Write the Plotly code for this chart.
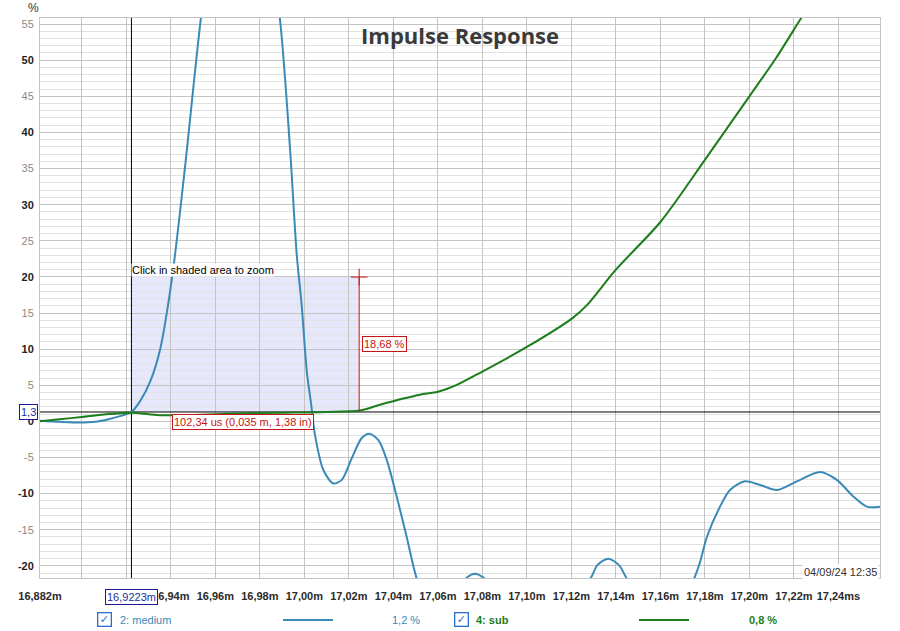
import plotly.graph_objects as go

# ---------------- data ----------------
medium_x = [16.8812, 16.8900, 16.8990, 16.9060, 16.9120, 16.9180, 16.9223, 16.9262, 16.9307,
            16.9352, 16.9406, 16.9463, 16.9535, 16.9620, 16.9711, 16.9800, 16.9890,
            16.9936, 16.9966, 16.9988, 17.0011, 17.0030, 17.0048, 17.0085, 17.0130, 17.0168,
            17.0213, 17.0258, 17.0292, 17.0333, 17.0370, 17.0415, 17.0460, 17.0498, 17.0560,
            17.0630, 17.0709, 17.0731, 17.0767, 17.0803, 17.0840, 17.0970, 17.1150, 17.1285,
            17.1317, 17.1366, 17.1414, 17.1450, 17.1576, 17.1710, 17.1748, 17.1778, 17.1809,
            17.1868, 17.1913, 17.1980, 17.2048, 17.2123, 17.2213, 17.2318, 17.2393, 17.2467,
            17.2528, 17.2587]
medium_y = [0.1, -0.05, -0.15, -0.05, 0.3, 0.8, 1.3, 2.8, 5.5,
            10.0, 20.0, 35.0, 55.8, 75.0, 82.0, 75.0, 55.8,
            37.6, 23.0, 16.1, 6.9, 2.5, -1.9, -6.7, -8.6, -8.1,
            -5.1, -2.3, -1.7, -2.6, -5.3, -10.4, -16.0, -21.0, -26.5,
            -26.0, -22.5, -21.6, -21.1, -21.6, -22.8, -28.0, -26.0, -21.8,
            -19.9, -19.0, -19.9, -21.8, -27.0, -24.0, -22.0, -19.5, -16.0,
            -11.8, -9.5, -8.3, -8.8, -9.5, -8.3, -7.0, -8.1, -10.4,
            -11.8, -11.8]

sub_x = [16.8812, 16.8900, 16.9000, 16.9100, 16.9223, 16.9350, 16.9500, 16.9700, 16.9900,
         17.0100, 17.0250, 17.0340, 17.0450, 17.0520, 17.0600, 17.0685, 17.0800, 17.1000, 17.1205,
         17.1270, 17.1400, 17.1600, 17.1800, 17.2000, 17.2120, 17.2230, 17.2400, 17.2587]
sub_y = [0.0, 0.3, 0.6, 0.95, 1.2, 0.85, 0.9, 1.1, 1.2,
         1.3, 1.5, 2.3, 3.2, 3.7, 4.1, 5.05, 6.9, 10.3, 14.3,
         16.1, 21.0, 27.6, 36.2, 45.0, 50.3, 55.7, 64.0, 73.0]

x_tickvals = [16.8812, 16.90, 16.92, 16.94, 16.96, 16.98, 17.00, 17.02, 17.04, 17.06, 17.08,
              17.10, 17.12, 17.14, 17.16, 17.18, 17.20, 17.22, 17.24]
x_ticktext = ["16,882m", "", "", "16,94m", "16,96m", "16,98m", "17,00m", "17,02m", "17,04m",
              "17,06m", "17,08m", "17,10m", "17,12m", "17,14m", "17,16m", "17,18m", "17,20m",
              "17,22m", "17,24ms"]
y_tickvals = [-20, -15, -10, -5, 0, 5, 10, 15, 20, 25, 30, 35, 40, 45, 50, 55]

cursor_x = 16.9223
cursor_y = 1.3
delta_x = 0.10234
delta_y = 18.68

X_RANGE = [16.8812, 17.2587]
Y_RANGE = [-21.68, 55.84]

BLUE = "#3a8ab8"
GREEN = "#1c7d1c"
RED = "#c81414"

def fmt_y(v):
    if v % 10 == 0:
        return "<b>%d</b>" % v
    return "<span style='color:#8a8a8a'>%d</span>" % v

y_ticktext = [fmt_y(v) for v in y_tickvals]

# plot area in pixels: x 40..880, y 18..578
def px(p):
    return (p - 40) / 840.0

def py(p):
    return (578 - p) / 560.0

fig = go.Figure()

# cursor cross-hair
fig.add_trace(go.Scatter(x=[cursor_x, cursor_x], y=Y_RANGE, mode="lines",
                         line=dict(color="black", width=1), hoverinfo="skip", showlegend=False))
fig.add_trace(go.Scatter(x=X_RANGE, y=[cursor_y, cursor_y], mode="lines",
                         line=dict(color="black", width=1), hoverinfo="skip", showlegend=False))

fig.add_trace(go.Scatter(x=medium_x, y=medium_y, mode="lines",
                         line=dict(color=BLUE, width=2, shape="spline", smoothing=0.8),
                         hoverinfo="skip", showlegend=False))
fig.add_trace(go.Scatter(x=sub_x, y=sub_y, mode="lines",
                         line=dict(color=GREEN, width=2, shape="spline", smoothing=0.8),
                         hoverinfo="skip", showlegend=False))
fig.add_trace(go.Scatter(x=[cursor_x + delta_x, cursor_x + delta_x],
                         y=[cursor_y, cursor_y + delta_y], mode="lines",
                         line=dict(color=RED, width=1), hoverinfo="skip", showlegend=False))
fig.add_trace(go.Scatter(x=[cursor_x + delta_x], y=[cursor_y + delta_y], mode="markers",
                         marker=dict(symbol="cross-thin", size=12,
                                     line=dict(color=RED, width=1)),
                         hoverinfo="skip", showlegend=False))

shapes = [
    dict(type="rect", xref="x", yref="y", x0=cursor_x, x1=cursor_x + delta_x,
         y0=cursor_y, y1=cursor_y + delta_y, fillcolor="rgba(215,215,250,0.6)",
         line=dict(width=0), layer="below"),
    # legend line samples
    dict(type="line", xref="paper", yref="paper", x0=px(283), x1=px(333), y0=py(620), y1=py(620),
         line=dict(color=BLUE, width=2)),
    dict(type="line", xref="paper", yref="paper", x0=px(639), x1=px(689), y0=py(620), y1=py(620),
         line=dict(color=GREEN, width=2)),
]

annotations = [
    dict(text="<b>Impulse Response</b>", xref="paper", yref="paper", x=px(460), y=py(35),
         showarrow=False, font=dict(family="Open Sans", size=22, color="#3a3a3a"),
         xanchor="center", yanchor="middle"),
    dict(text="%", xref="paper", yref="paper", x=px(33), y=py(8), showarrow=False,
         font=dict(family="Liberation Sans", size=12, color="#333"), xanchor="center", yanchor="middle"),
    dict(text="1,3", xref="paper", yref="y", x=px(38), y=cursor_y, showarrow=False,
         xanchor="right", yanchor="middle", font=dict(family="Liberation Sans", size=11, color="#1a2fa0"),
         bgcolor="white", bordercolor="#1a1a9a", borderwidth=1, borderpad=1),
    dict(text="16,9223m", xref="x", yref="paper", x=cursor_x, y=py(597), showarrow=False,
         xanchor="center", yanchor="middle", font=dict(family="Liberation Sans", size=11, color="#1a2fa0"),
         bgcolor="white", bordercolor="#1a1a9a", borderwidth=1, borderpad=1),
    dict(text="Click in shaded area to zoom", xref="x", yref="paper", x=cursor_x, y=py(270),
         showarrow=False, xanchor="left", yanchor="middle",
         font=dict(family="Liberation Sans", size=11, color="black"), bgcolor="white", borderpad=0),
    dict(text="18,68 %", xref="paper", yref="paper", x=px(362), y=py(344), showarrow=False,
         xanchor="left", yanchor="middle", font=dict(family="Liberation Sans", size=11, color=RED),
         bgcolor="white", bordercolor=RED, borderwidth=1, borderpad=1),
    dict(text="102,34 us (0,035 m, 1,38 in)", xref="paper", yref="paper", x=px(172), y=py(422),
         showarrow=False, xanchor="left", yanchor="middle",
         font=dict(family="Liberation Sans", size=11, color=RED),
         bgcolor="white", bordercolor=RED, borderwidth=1, borderpad=1),
    dict(text="04/09/24 12:35", xref="paper", yref="paper", x=px(879), y=py(572), showarrow=False,
         xanchor="right", yanchor="middle", font=dict(family="Liberation Sans", size=11, color="#333"),
         bgcolor="white", borderpad=1),
    # legend
    dict(text="<b>✓</b>", xref="paper", yref="paper", x=px(104.5), y=py(619), showarrow=False,
         xanchor="center", yanchor="middle", font=dict(family="DejaVu Sans", size=11, color="#2a6fd0"),
         bordercolor="#2a6fd0", borderwidth=1.3, borderpad=0, width=12, height=12, bgcolor="white"),
    dict(text="2: medium", xref="paper", yref="paper", x=px(118), y=py(620), showarrow=False,
         xanchor="left", yanchor="middle", font=dict(family="Liberation Sans", size=11, color=BLUE)),
    dict(text="1,2 %", xref="paper", yref="paper", x=px(390), y=py(620), showarrow=False,
         xanchor="left", yanchor="middle", font=dict(family="Liberation Sans", size=11, color=BLUE)),
    dict(text="<b>✓</b>", xref="paper", yref="paper", x=px(461.5), y=py(619), showarrow=False,
         xanchor="center", yanchor="middle", font=dict(family="DejaVu Sans", size=11, color="#2a6fd0"),
         bordercolor="#2a6fd0", borderwidth=1.3, borderpad=0, width=12, height=12, bgcolor="white"),
    dict(text="<b>4: sub</b>", xref="paper", yref="paper", x=px(474), y=py(620), showarrow=False,
         xanchor="left", yanchor="middle", font=dict(family="Liberation Sans", size=11, color=GREEN)),
    dict(text="<b>0,8 %</b>", xref="paper", yref="paper", x=px(747), y=py(620), showarrow=False,
         xanchor="left", yanchor="middle", font=dict(family="Liberation Sans", size=11, color=GREEN)),
]

fig.update_layout(
    width=900, height=631,
    margin=dict(l=40, r=20, t=18, b=53),
    paper_bgcolor="white", plot_bgcolor="white",
    shapes=shapes, annotations=annotations,
    showlegend=False,
    xaxis=dict(range=X_RANGE, tickvals=x_tickvals, ticktext=x_ticktext,
               showgrid=True, gridcolor="#c4c4c4", gridwidth=1, zeroline=False,
               showline=True, linecolor="#c4c4c4", linewidth=1, mirror=True,
               ticks="", ticklabelstandoff=8,
               tickfont=dict(family="Liberation Sans", size=11, color="#2a2a2a", weight="bold")),
    yaxis=dict(range=Y_RANGE, tickvals=y_tickvals, ticktext=y_ticktext,
               showgrid=True, gridcolor="#c4c4c4", gridwidth=1, zeroline=False,
               showline=True, linecolor="#c4c4c4", linewidth=1, mirror=True,
               ticks="", ticklabelstandoff=3,
               minor=dict(dtick=1, tick0=0, showgrid=True, gridcolor="#e2e2e2", gridwidth=1),
               tickfont=dict(family="Liberation Sans", size=11, color="#222")),
)

fig.write_html("out.html")
